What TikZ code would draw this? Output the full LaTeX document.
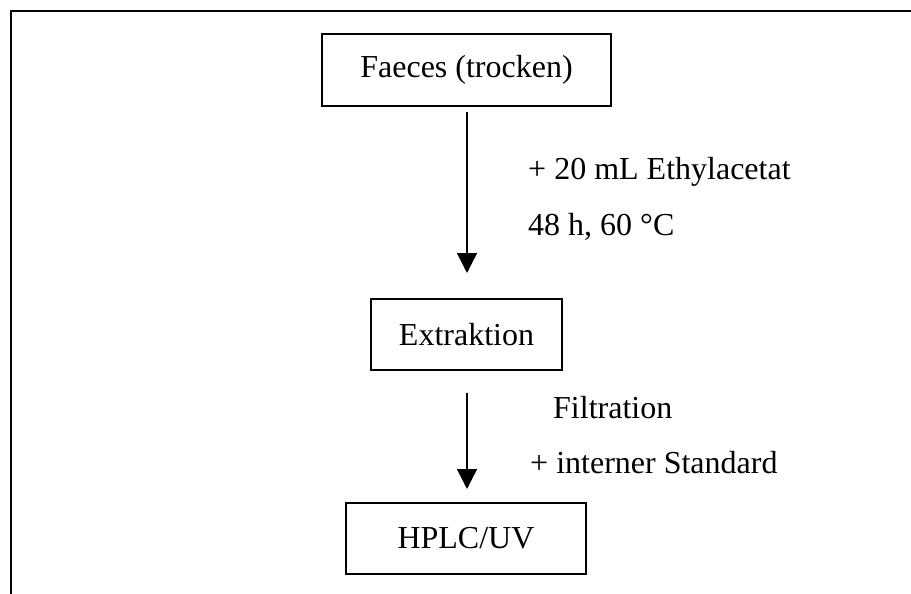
\documentclass[tikz,border=0pt]{standalone}
\usepackage{fontspec}
\setmainfont{Liberation Serif}
\usetikzlibrary{arrows.meta}
\tikzset{%
  flow/.style = {
    x=1pt, y=-1pt,
    every node/.style = {font=\fontsize{32}{38}\selectfont},
    box/.style = {shape=rectangle, draw, line width=1.4pt,
      inner sep=0pt, align=center},
    note/.style = {anchor=west, inner sep=0pt},
    step arrow/.style = {draw, line width=1.4pt,
      -{Triangle[length=20pt,width=20pt]}}
  }
}

\begin{document}
\begin{tikzpicture}[flow]
  \useasboundingbox (0,0) rectangle (911,594);
  % open frame
  \draw[line width=2pt] (11,594) -- (11,11) -- (911,11);
  \node[box, minimum width=289pt, minimum height=72pt] (faeces) at (466.5,70) {Faeces (trocken)};
  \node[box, minimum width=191pt, minimum height=71pt] (extr) at (466.5,334.5) {Extraktion};
  \node[box, minimum width=240pt, minimum height=71pt] (hplc) at (466,538.5) {HPLC/UV};
  \coordinate (a1s) at (467,112);
  \coordinate (a1e) at (467,273);
  \coordinate (a2s) at (467,393);
  \coordinate (a2e) at (467,489);
  \draw[step arrow] (a1s) -- (a1e);
  \draw[step arrow] (a2s) -- (a2e);
  \node[note] (eth) at (528,172) {+ 20 mL Ethylacetat};
  \node[note] (cond) at (528,227) {48 h, 60 °C};
  \node[note] (filt) at (553,408) {Filtration};
  \node[note] (istd) at (530,463) {+ interner Standard};
\end{tikzpicture}
\end{document}
